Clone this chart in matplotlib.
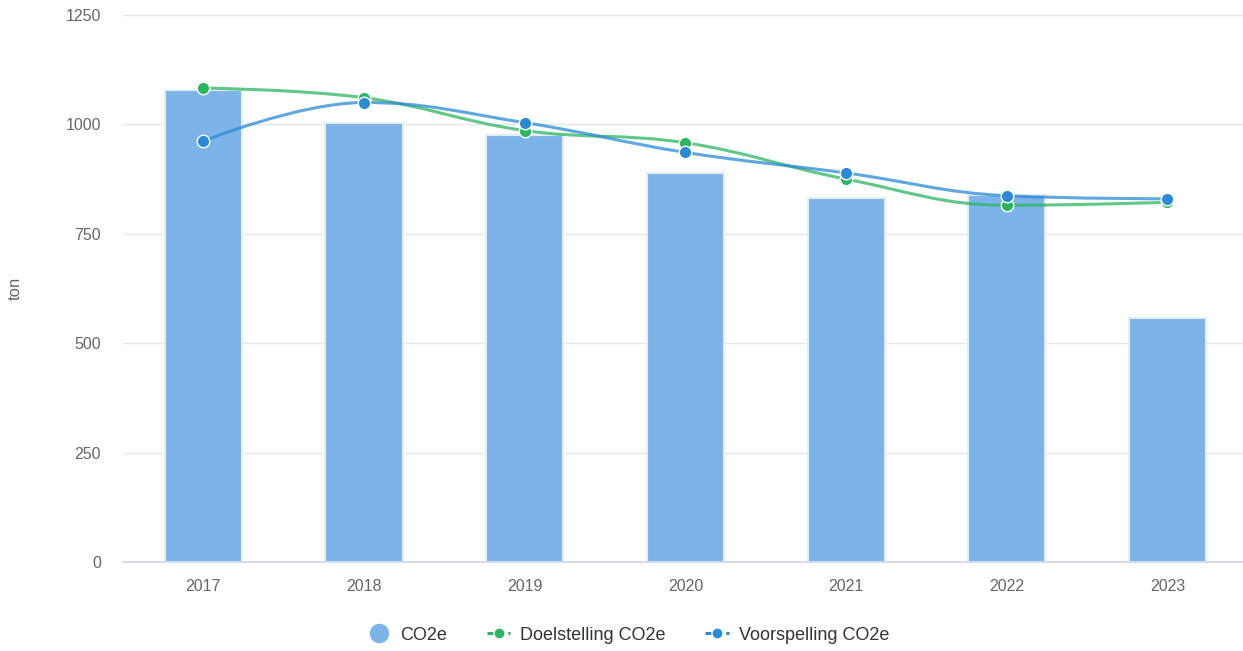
import numpy as np
import matplotlib
matplotlib.use("Agg")
import matplotlib.pyplot as plt
from matplotlib.path import Path
from matplotlib.patches import PathPatch
from matplotlib.lines import Line2D

plt.rcParams["font.family"] = ["Liberation Sans", "DejaVu Sans"]

years = ["2017", "2018", "2019", "2020", "2021", "2022", "2023"]
co2e = [1078, 1003, 976, 889, 832, 839, 558]
doelstelling = [1083, 1061, 986, 958, 875, 815, 822]
voorspelling = [962, 1050, 1004, 936, 889, 837, 830]

BAR_COLOR = "#7cb4ea"
GREEN = "#2bb55e"
BLUE = "#2a8ad6"


def spline_path(xs, ys, smoothing=1.5):
    """Highcharts-style spline as cubic Bezier path."""
    n = len(xs)
    verts = [(xs[0], ys[0])]
    codes = [Path.MOVETO]
    lconts, rconts = [None] * n, [None] * n
    denom = smoothing + 1
    for i in range(n):
        if 0 < i < n - 1:
            px, py = xs[i], ys[i]
            lx, ly = xs[i - 1], ys[i - 1]
            nx, ny = xs[i + 1], ys[i + 1]
            lcx = (smoothing * px + lx) / denom
            lcy = (smoothing * py + ly) / denom
            rcx = (smoothing * px + nx) / denom
            rcy = (smoothing * py + ny) / denom
            if rcx != lcx:
                corr = (rcy - lcy) * (rcx - px) / (rcx - lcx) + py - rcy
                lcy += corr
                rcy += corr
            if lcy > ly and lcy > py:
                lcy = max(ly, py)
                rcy = 2 * py - lcy
            elif lcy < ly and lcy < py:
                lcy = min(ly, py)
                rcy = 2 * py - lcy
            if rcy > ny and rcy > py:
                rcy = max(ny, py)
                lcy = 2 * py - rcy
            elif rcy < ny and rcy < py:
                rcy = min(ny, py)
                lcy = 2 * py - rcy
            lconts[i] = (lcx, lcy)
            rconts[i] = (rcx, rcy)
    for i in range(1, n):
        c1 = rconts[i - 1] if rconts[i - 1] is not None else (xs[i - 1], ys[i - 1])
        c2 = lconts[i] if lconts[i] is not None else (xs[i], ys[i])
        verts += [c1, c2, (xs[i], ys[i])]
        codes += [Path.CURVE4] * 3
    return Path(verts, codes)


fig = plt.figure(figsize=(12.43, 6.51), dpi=100)
ax = fig.add_axes([123 / 1243, 89 / 651, 1120 / 1243, 547 / 651])

x = np.arange(len(years))
ax.bar(x, co2e, width=0.48, color=BAR_COLOR, edgecolor="#e6ecf3", linewidth=1.5, zorder=2)

for vals, col in [(doelstelling, GREEN), (voorspelling, BLUE)]:
    p = spline_path(list(x.astype(float)), [float(v) for v in vals])
    ax.add_patch(PathPatch(p, facecolor="none", edgecolor=col, lw=2.2, alpha=0.75, zorder=3))
for vals, col in [(doelstelling, GREEN), (voorspelling, BLUE)]:
    ax.plot(x, vals, linestyle="none", marker="o", markersize=9, markerfacecolor=col,
            markeredgecolor="white", markeredgewidth=1.0, zorder=4)

ax.set_xlim(-0.5, 6.47)
ax.set_ylim(0, 1250)
ax.set_yticks([0, 250, 500, 750, 1000, 1250])
ax.set_xticks(x)
ax.set_xticklabels(years)
ax.grid(axis="y", color="#e6e6e6", linewidth=1, zorder=0)
ax.set_axisbelow(True)
for s in ["top", "right", "left"]:
    ax.spines[s].set_visible(False)
ax.spines["bottom"].set_color("#ccd6eb")
ax.spines["bottom"].set_linewidth(1.2)
ax.tick_params(axis="both", length=0, labelsize=11.5, labelcolor="#666666")
ax.tick_params(axis="y", pad=16)
ax.tick_params(axis="x", pad=12)
ax.set_ylabel("ton", fontsize=12, color="#666666")
ax.yaxis.set_label_coords(-100 / 1120, 0.5)

handles = [
    Line2D([], [], linestyle="none", marker="o", markersize=13, markerfacecolor=BAR_COLOR,
           markeredgecolor=BAR_COLOR),
    Line2D([], [], color=GREEN, linestyle=(0, (2.2, 1.2)), lw=2.2, marker="o", markersize=8,
           markerfacecolor=GREEN, markeredgecolor="white"),
    Line2D([], [], color=BLUE, linestyle=(0, (2.2, 1.2)), lw=2.2, marker="o", markersize=8,
           markerfacecolor=BLUE, markeredgecolor="white"),
]
labels = ["CO2e", "Doelstelling CO2e", "Voorspelling CO2e"]
leg = fig.legend(handles, labels, loc="center", bbox_to_anchor=(628 / 1243, 1 - 635 / 651),
                 ncol=3, frameon=False, fontsize=13, handlelength=1.3, handletextpad=0.55,
                 columnspacing=2.2, labelcolor="#333333")

fig.savefig("out.png", dpi=100)
